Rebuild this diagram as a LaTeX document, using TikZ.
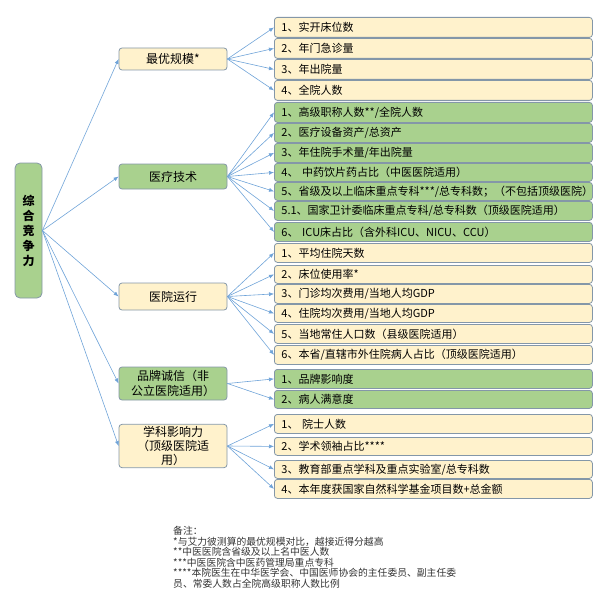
\documentclass[tikz,border=0pt]{standalone}
\usepackage{fontspec}
\setmainfont{Noto Sans CJK SC}
\usetikzlibrary{arrows.meta}
\definecolor{yfill}{HTML}{FFF2CC}
\definecolor{gfill}{HTML}{A9D18E}
\definecolor{bordc}{HTML}{8497A8}
\definecolor{arrc}{HTML}{6FA3D8}
\definecolor{notec}{HTML}{333333}
\tikzset{
  box/.style={draw=bordc, line width=0.8pt, rounded corners=3pt, inner xsep=7pt, inner ysep=1pt},
  ybox/.style={box, fill=yfill},
  gbox/.style={box, fill=gfill},
  leaf/.style={anchor=north west, minimum width=318pt, text width=304pt, align=left, font=\fontsize{11}{13}\selectfont},
  mid/.style={minimum width=106pt, text width=94pt, align=center, font=\fontsize{12}{15}\selectfont},
  conn/.style={draw=arrc, line width=0.6pt, -{Latex[length=5pt,width=4pt]}},
}
\begin{document}
\begin{tikzpicture}[x=1pt,y=-1pt]
\useasboundingbox (0,0) rectangle (600,615);
% root
\node[gbox, rounded corners=5pt, minimum width=27pt, minimum height=135pt, inner xsep=1pt, align=center, font=\fontsize{12}{15}\selectfont\bfseries] (root) at (28.5,230.5) {综\\合\\竞\\争\\力};
% level 1
\node[ybox, mid, minimum height=22pt] (A) at (173,59) {最优规模*};
\node[gbox, mid, minimum height=25pt] (B) at (173,176.5) {医疗技术};
\node[ybox, mid, minimum height=27pt] (C) at (173,296.5) {医院运行};
\node[gbox, mid, minimum height=33pt, inner ysep=2pt] (D) at (173,383.5) {品牌诚信（非\\公立医院适用）};
\node[ybox, mid, minimum height=42pt, inner ysep=2pt, font=\fontsize{12}{14}\selectfont] (E) at (173,446) {学科影响力\\（顶级医院适\\用）};
% leaves
\node[ybox, leaf, minimum height=20pt] (a1) at (274,17) {1、实开床位数};
\node[ybox, leaf, minimum height=20pt] (a2) at (274,38) {2、年门急诊量};
\node[ybox, leaf, minimum height=20pt] (a3) at (274,59) {3、年出院量};
\node[ybox, leaf, minimum height=20pt] (a4) at (274,80) {4、全院人数};
\node[gbox, leaf, minimum height=20pt] (b1) at (274,102) {1、高级职称人数**/全院人数};
\node[gbox, leaf, minimum height=19pt] (b2) at (274,123) {2、医疗设备资产/总资产};
\node[gbox, leaf, minimum height=19pt] (b3) at (274,143) {3、年住院手术量/年出院量};
\node[gbox, leaf, minimum height=18pt] (b4) at (274,163) {4、 中药饮片药占比（中医医院适用）};
\node[gbox, leaf, minimum height=18pt] (b5) at (274,182) {5、省级及以上临床重点专科***/总专科数；（不包括顶级医院）};
\node[gbox, leaf, minimum height=19pt] (b51) at (274,201) {5.1、国家卫计委临床重点专科/总专科数（顶级医院适用）};
\node[gbox, leaf, minimum height=19pt] (b6) at (274,222) {6、 ICU床占比（含外科ICU、NICU、CCU）};
\node[ybox, leaf, minimum height=19pt] (c1) at (274,243) {1、平均住院天数};
\node[ybox, leaf, minimum height=18pt] (c2) at (274,265) {2、床位使用率*};
\node[ybox, leaf, minimum height=19pt] (c3) at (274,284) {3、门诊均次费用/当地人均GDP};
\node[ybox, leaf, minimum height=18pt] (c4) at (274,304) {4、住院均次费用/当地人均GDP};
\node[ybox, leaf, minimum height=19pt] (c5) at (274,324) {5、当地常住人口数（县级医院适用）};
\node[ybox, leaf, minimum height=19pt] (c6) at (274,345) {6、本省/直辖市外住院病人占比（顶级医院适用）};
\node[gbox, leaf, minimum height=19pt] (d1) at (274,369) {1、品牌影响度};
\node[gbox, leaf, minimum height=18pt] (d2) at (274,390) {2、病人满意度};
\node[ybox, leaf, minimum height=19pt] (e1) at (274,414) {1、 院士人数};
\node[ybox, leaf, minimum height=18pt] (e2) at (274,437) {2、学术领袖占比****};
\node[ybox, leaf, minimum height=18pt] (e3) at (274,460) {3、教育部重点学科及重点实验室/总专科数};
\node[ybox, leaf, minimum height=19pt] (e4) at (274,479) {4、本年度获国家自然科学基金项目数+总金额};
% connectors
\foreach \t in {A,B,C,D,E} \draw[conn] (root.east) -- (\t.west);
\foreach \t in {a1,a2,a3,a4} \draw[conn] (A.east) -- (\t.west);
\foreach \t in {b1,b2,b3,b4,b5,b51,b6} \draw[conn] (B.east) -- (\t.west);
\foreach \t in {c1,c2,c3,c4,c5,c6} \draw[conn] (C.east) -- (\t.west);
\foreach \t in {d1,d2} \draw[conn] (D.east) -- (\t.west);
\foreach \t in {e1,e2,e3,e4} \draw[conn] (E.east) -- (\t.west);
% notes
\node[anchor=north west, inner sep=0pt, align=left, text=notec, font=\fontsize{9.8}{10.5}\selectfont] (notes) at (173,526.5) {备注：\\*与艾力彼测算的最优规模对比，越接近得分越高\\**中医医院含省级及以上名中医人数\\***中医医院含中医药管理局重点专科\\****本院医生在中华医学会、中国医师协会的主任委员、副主任委\\员、常委人数占全院高级职称人数比例};
\end{tikzpicture}
\end{document}
